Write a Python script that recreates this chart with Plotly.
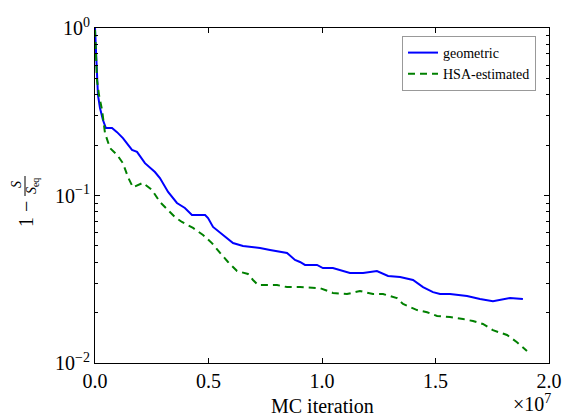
import plotly.graph_objects as go

# MC iteration in units of 1e7
geo_x = [0, 0.0044, 0.0088, 0.013, 0.022, 0.035, 0.048, 0.075, 0.097, 0.123, 0.163, 0.185,
         0.220, 0.264, 0.286, 0.322, 0.361, 0.374, 0.396, 0.427, 0.485, 0.498, 0.520, 0.564,
         0.608, 0.652, 0.727, 0.771, 0.846, 0.881, 0.903, 0.925, 0.978, 1.004, 1.048, 1.123,
         1.181, 1.242, 1.291, 1.344, 1.401, 1.445, 1.489, 1.520, 1.564, 1.639, 1.696, 1.753,
         1.784, 1.828, 1.885]
geo_y = [1.0, 0.690, 0.489, 0.398, 0.333, 0.282, 0.253, 0.253, 0.239, 0.220, 0.187, 0.182,
         0.156, 0.138, 0.127, 0.105, 0.0902, 0.0878, 0.0842, 0.0765, 0.0765, 0.0734, 0.0649, 0.0581,
         0.0520, 0.0500, 0.0486, 0.0473, 0.0454, 0.0412, 0.0401, 0.0385, 0.0385, 0.0369, 0.0369, 0.0345,
         0.0345, 0.0354, 0.0331, 0.0326, 0.0313, 0.0284, 0.0265, 0.0258, 0.0258, 0.0251, 0.0241, 0.0234,
         0.0238, 0.0244, 0.0241]

hsa_x = [0, 0.0044, 0.0088, 0.0176, 0.031, 0.044, 0.066, 0.097, 0.123, 0.145, 0.167, 0.211,
         0.251, 0.286, 0.330, 0.352, 0.383, 0.432, 0.476, 0.515, 0.551, 0.586, 0.626, 0.674,
         0.696, 0.718, 0.758, 0.802, 0.846, 0.903, 0.991, 1.048, 1.110, 1.167, 1.225, 1.269,
         1.330, 1.357, 1.419, 1.463, 1.507, 1.564, 1.621, 1.665, 1.709, 1.753, 1.815, 1.859, 1.903]
hsa_y = [0.973, 0.644, 0.489, 0.398, 0.324, 0.236, 0.192, 0.175, 0.156, 0.129, 0.112, 0.119,
         0.108, 0.0914, 0.0797, 0.0744, 0.0695, 0.0640, 0.0581, 0.0520, 0.0454, 0.0401, 0.0354, 0.0340,
         0.0313, 0.0292, 0.0292, 0.0292, 0.0284, 0.0284, 0.0280, 0.0262, 0.0258, 0.0269, 0.0258, 0.0258,
         0.0244, 0.0225, 0.0207, 0.0201, 0.0191, 0.0188, 0.0183, 0.0178, 0.0171, 0.0157, 0.0147, 0.0133, 0.0118]

x_tickvals = [0, 0.5, 1.0, 1.5, 2.0]
x_ticktext = ["0.0", "0.5", "1.0", "1.5", "2.0"]
y_tickvals = [1, 0.1, 0.01]
y_ticktext = ["10<sup>0</sup>", "10<sup>−1</sup>", "10<sup>−2</sup>"]
y_minor = [0.02, 0.03, 0.04, 0.05, 0.06, 0.07, 0.08, 0.09,
           0.2, 0.3, 0.4, 0.5, 0.6, 0.7, 0.8, 0.9]

FONT = "Liberation Serif, serif"
L, R, T, B = 95, 14, 28, 53
W, H = 563, 416
PW, PH = W - L - R, H - T - B

def px(xp):
    return (xp - L) / PW

def py(yp):
    return (H - B - yp) / PH

fig = go.Figure()
fig.add_trace(go.Scatter(x=geo_x, y=geo_y, mode="lines", name="geometric",
                         line=dict(color="#0000ff", width=2)))
fig.add_trace(go.Scatter(x=hsa_x, y=hsa_y, mode="lines", name="HSA-estimated",
                         line=dict(color="#008000", width=2, dash="7px,5px")))

fig.update_layout(
    width=W, height=H,
    margin=dict(l=L, r=R, t=T, b=B, autoexpand=False),
    paper_bgcolor="white", plot_bgcolor="white",
    font=dict(family=FONT, size=20, color="black"),
    showlegend=True,
    legend=dict(x=px(402), y=py(36), xanchor="left", yanchor="top",
                bordercolor="#999999", borderwidth=1, bgcolor="white",
                font=dict(family=FONT, size=14), tracegroupgap=0,
                itemwidth=30),
    xaxis=dict(range=[0, 2.0], tickmode="array", tickvals=x_tickvals, ticktext=x_ticktext,
               automargin=False,
               showgrid=False, zeroline=False, showline=True, linecolor="black", linewidth=1,
               mirror="allticks", ticks="inside", ticklen=5, tickcolor="black",
               tickfont=dict(family=FONT, size=20)),
    yaxis=dict(type="log", range=[-2, 0], tickmode="array", tickvals=y_tickvals, ticktext=y_ticktext,
               automargin=False,
               showgrid=False, zeroline=False, showline=True, linecolor="black", linewidth=1,
               mirror="allticks", ticks="inside", ticklen=5, tickcolor="black",
               tickfont=dict(family=FONT, size=20),
               minor=dict(tickmode="array", tickvals=y_minor, ticks="inside", ticklen=3,
                          tickcolor="black", showgrid=False)),
)

ann = [
    dict(text="MC iteration", x=0.5, y=py(406), font=dict(size=20)),
    dict(text="×10<sup>7</sup>", x=px(532), y=py(403), font=dict(size=20)),
    dict(text="1 −", x=px(26), y=py(214), textangle=-90, font=dict(size=20)),
    dict(text="<i>S</i>", x=px(17), y=py(185), textangle=-90, font=dict(size=14)),
    dict(text="<i>S</i><sub>eq</sub>", x=px(32), y=py(186), textangle=-90, font=dict(size=14)),
]
for a in ann:
    fig.add_annotation(xref="paper", yref="paper", showarrow=False,
                       xanchor="center", yanchor="middle", **a)

fig.add_shape(type="line", xref="paper", yref="paper",
              x0=px(25), x1=px(25), y0=py(196), y1=py(176),
              line=dict(color="black", width=1))

fig.write_html("out.html", config={"displayModeBar": False},
               post_script="document.body.style.margin='0';document.body.style.overflow='hidden';")
